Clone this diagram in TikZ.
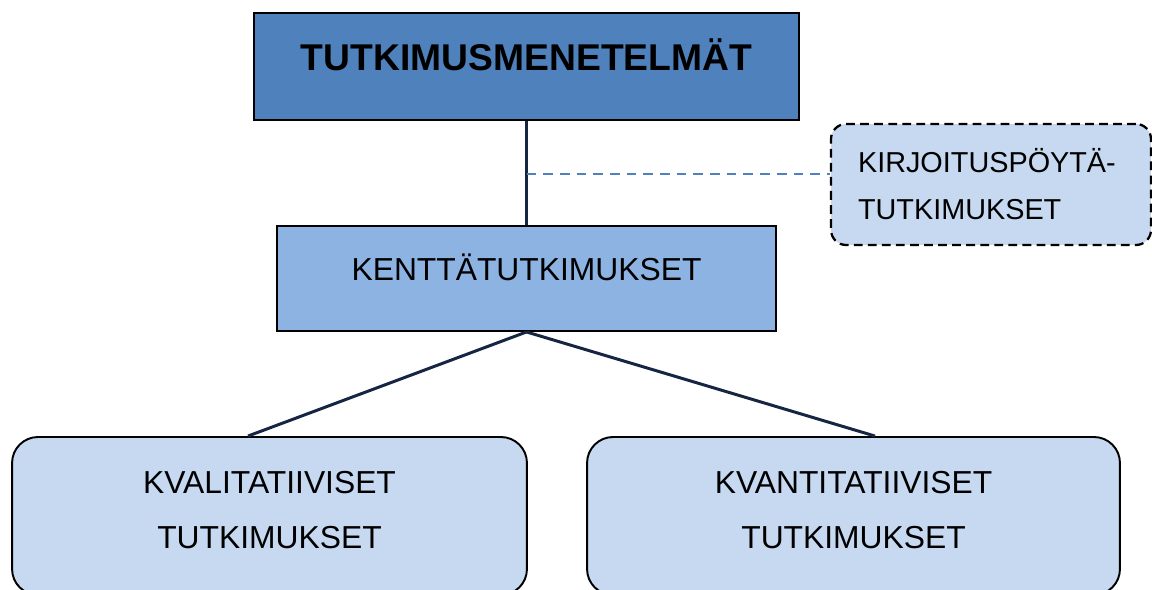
\documentclass[tikz,border=0pt]{standalone}
\usepackage{fontspec}
\setmainfont{Liberation Sans}
\usetikzlibrary{positioning,calc}
\definecolor{tmDark}{RGB}{79,129,189}
\definecolor{tmMid}{RGB}{141,179,226}
\definecolor{tmLight}{RGB}{198,217,241}
\definecolor{tmLine}{RGB}{22,38,66}

\begin{document}
\begin{tikzpicture}[x=0.02cm, y=-0.02cm,
  mainbox/.style={draw=black, line width=1.1pt, fill=tmDark, minimum width=10.9cm,
    minimum height=2.14cm, font=\fontsize{21.2}{25}\selectfont\bfseries,
    text height=0.6cm, text depth=0.45cm},
  fieldbox/.style={draw=black, line width=1.1pt, fill=tmMid, minimum width=9.98cm,
    minimum height=2.1cm, font=\fontsize{18.1}{21}\selectfont,
    text height=0.5cm, text depth=0.4cm},
  kindbox/.style={draw=black, line width=1.1pt, fill=tmLight, rounded corners=0.52cm,
    minimum height=3.16cm, align=center, text depth=0.25cm,
    font=\fontsize{18.1}{31.3}\selectfont},
  deskbox/.style={draw=black, line width=1.3pt, dash pattern=on 5pt off 3pt,
    fill=tmLight, rounded corners=0.3cm, minimum height=2.42cm,
    text width=5.32cm, inner xsep=0.54cm, align=left,
    font=\fontsize{16.4}{26.7}\selectfont},
  tree/.style={draw=tmLine, line width=1.7pt},
  aside/.style={draw=tmDark, line width=1.1pt, dash pattern=on 5.5pt off 4pt}]

  \useasboundingbox (0,0) rectangle (1152,590);
  \clip (0,0) rectangle (1152,590);

  % main title
  \node[mainbox] (methods) at (526.5,66.5) {TUTKIMUSMENETELMÄT};

  % field studies
  \node[fieldbox] (field) at (526.5,278.5) {KENTTÄTUTKIMUKSET};

  % desk studies (side branch)
  \node[deskbox] (desk) at (991,184.5) {\mbox{KIRJOITUSPÖYTÄ-}\\TUTKIMUKSET};

  % the two kinds
  \node[kindbox, minimum width=10.3cm] (qual) at (269.5,516) {KVALITATIIVISET\\TUTKIMUKSET};
  \node[kindbox, minimum width=10.66cm] (quant) at (853.5,516) {KVANTITATIIVISET\\TUTKIMUKSET};

  % connectors
  \coordinate (tap) at (526.5,174);
  \draw[tree] (methods.south) -- (field.north);
  \draw[aside] (tap) -- (tap -| desk.west);
  \draw[tree] (field.south) -- ($(qual.north)+(-21.5,0)$);
  \draw[tree] (field.south) -- ($(quant.north)+(21.5,0)$);
\end{tikzpicture}
\end{document}
